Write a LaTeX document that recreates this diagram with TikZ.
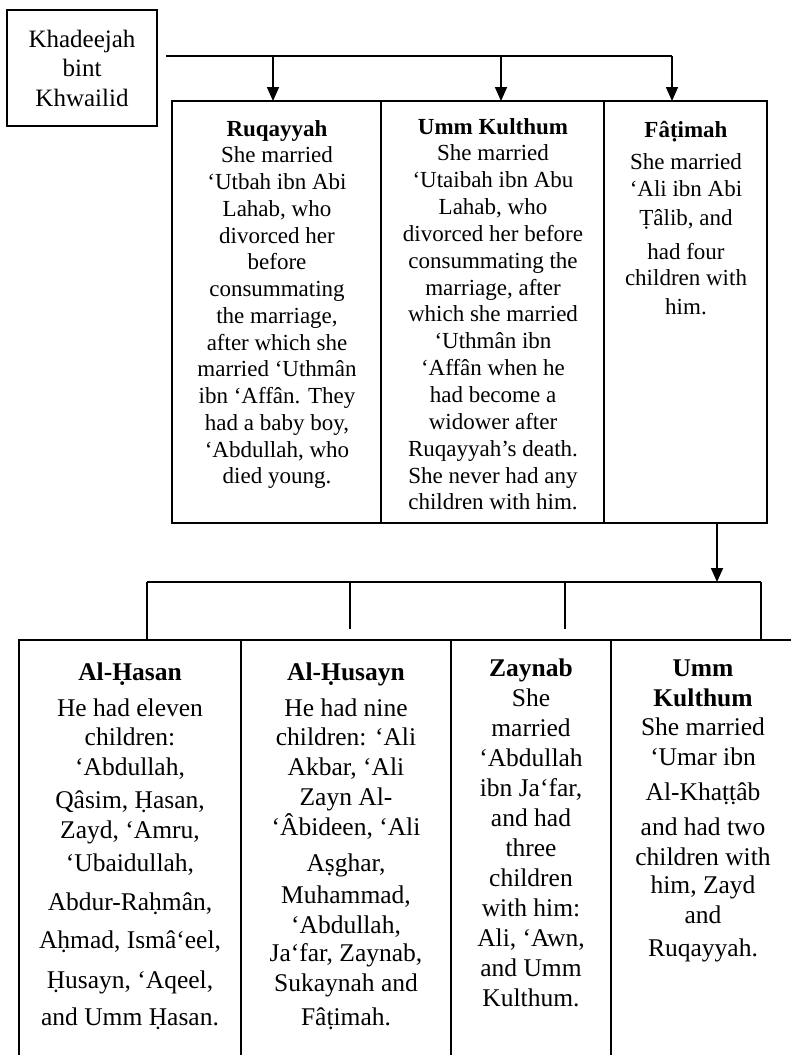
\documentclass[tikz,border=0pt]{standalone}
\usepackage{fontspec}
\setmainfont{Liberation Serif}
\usetikzlibrary{arrows.meta}
\newcommand\topfont{\fontsize{23}{26.8}\selectfont}
\newcommand\botfont{\fontsize{25.5}{30}\selectfont}
\newcommand\kfont{\fontsize{25}{29.5}\selectfont}
\tikzset{
  frame/.style={draw=black, line width=1.8pt, inner sep=0pt, outer sep=0pt, fill=none},
  conn/.style={draw=black, line width=1.8pt},
  arr/.style={draw=black, line width=1.8pt, -{Triangle[width=12pt,length=14pt]}},
  toptxt/.style={inner sep=0pt, anchor=base, font=\topfont},
  bottxt/.style={inner sep=0pt, anchor=base, font=\botfont},
}
\begin{document}
\begin{tikzpicture}[x=1pt, y=-1pt]
\useasboundingbox (0,0) rectangle (791,1055);
\clip (0,0) rectangle (791,1055);
\fill[white] (0,0) rectangle (791,1055);

% Khadeejah box
\node[frame, minimum width=150pt, minimum height=116pt, align=center, font=\kfont] (kh) at (82,68) {Khadeejah\\bint\\Khwailid};

% top row frames
\node[frame, minimum width=209pt, minimum height=422pt] (ruq) at (276.5,312) {};
\node[frame, minimum width=223pt, minimum height=422pt] (ukt) at (492.5,312) {};
\node[frame, minimum width=163pt, minimum height=422pt] (fat) at (685.5,312) {};

% bottom row frames
\node[frame, minimum width=222pt, minimum height=435pt] (hasan) at (130,857.5) {};
\node[frame, minimum width=210pt, minimum height=435pt] (husayn) at (346,857.5) {};
\node[frame, minimum width=160pt, minimum height=435pt] (zaynab) at (531,857.5) {};
\node[frame, minimum width=189pt, minimum height=435pt] (ukb) at (705.5,857.5) {};

% top connectors
\coordinate (bar0) at (166,56);
\coordinate (b1) at (273,56);
\coordinate (b2) at (501,56);
\coordinate (b3) at (672,56);
\draw[conn] (bar0) -- (b3);
\draw[arr] (b1) -- (b1 |- ruq.north);
\draw[arr] (b2) -- (b2 |- ukt.north);
\draw[arr] (b3) -- (b3 |- fat.north);

% lower connectors
\coordinate (c0) at (717,582);
\coordinate (d1) at (147,582);
\coordinate (d2) at (350,582);
\coordinate (d3) at (565,582);
\coordinate (d4) at (761,582);
\draw[arr] (c0 |- fat.south) -- (c0);
\draw[conn] (d1) -- (d4);
\draw[conn] (d1) -- (d1 |- hasan.north);
\draw[conn] (d2) -- ++(0,47) coordinate (d2e);
\draw[conn] (d3) -- ++(0,47) coordinate (d3e);
\draw[conn] (d4) -- (d4 |- ukb.north);

% Ruqayyah text
\foreach \linetext [count=\i] in {\textbf{Ruqayyah}, She married, ‘Utbah ibn Abi, {Lahab, who}, divorced her, before, consummating, {the marriage,}, after which she, married ‘Uthmân, ibn ‘Affân. They, {had a baby boy,}, {‘Abdullah, who}, died young.}
  \node[toptxt] (ruqt\i) at (277,{136+(\i-1)*26.75}) {\linetext};

% Umm Kulthum (top) text
\foreach \linetext [count=\i] in {\textbf{Umm Kulthum}, She married, ‘Utaibah ibn Abu, {Lahab, who}, divorced her before, consummating the, {marriage, after}, which she married, ‘Uthmân ibn, ‘Affân when he, had become a, widower after, Ruqayyah’s death., She never had any, children with him.}
  \node[toptxt] (uktt\i) at (493,{134+(\i-1)*26.85}) {\linetext};

% Fatimah text
\foreach \yy/\linetext [count=\i] in {137/{\textbf{Fâṭimah}}, 169/{She married}, 196/{‘Ali ibn Abi}, 225/{Ṭâlib, and}, 259/{had four}, 285/{children with}, 314/{him.}}
  \node[toptxt] (fatt\i) at (686,\yy) {\linetext};

% Al-Hasan text
\foreach \yy/\linetext [count=\i] in {680/{\textbf{Al-Ḥasan}}, 716/{He had eleven}, 745/{children:}, 775/{‘Abdullah,}, 808/{Qâsim, Ḥasan,}, 838/{Zayd, ‘Amru,}, 871/{‘Ubaidullah,}, 910/{Abdur-Raḥmân,}, 948/{Aḥmad, Ismâ‘eel,}, 988/{Ḥusayn, ‘Aqeel,}, 1025/{and Umm Ḥasan.}}
  \node[bottxt] (hast\i) at (130,\yy) {\linetext};

% Al-Husayn text
\foreach \yy/\linetext [count=\i] in {680/{\textbf{Al-Ḥusayn}}, 716/{He had nine}, 745/{children: ‘Ali}, 775/{Akbar, ‘Ali}, 805/{Zayn Al-}, 835/{‘Âbideen, ‘Ali}, 871/{Aṣghar,}, 903/{Muhammad,}, 933/{‘Abdullah,}, 961/{Ja‘far, Zaynab,}, 991/{Sukaynah and}, 1025/{Fâṭimah.}}
  \node[bottxt] (hust\i) at (346,\yy) {\linetext};

% Zaynab text
\foreach \linetext [count=\i] in {\textbf{Zaynab}, She, married, ‘Abdullah, {ibn Ja‘far,}, and had, three, children, with him:, {Ali, ‘Awn,}, and Umm, Kulthum.}
  \node[bottxt] (zayt\i) at (531,{676+(\i-1)*30}) {\linetext};

% Umm Kulthum (bottom) text
\foreach \yy/\linetext [count=\i] in {676/{\textbf{Umm}}, 706/{\textbf{Kulthum}}, 735/{She married}, 765/{‘Umar ibn}, 800/{Al-Khaṭṭâb}, 835/{and had two}, 865/{children with}, 893/{him, Zayd}, 923/{and}, 956/{Ruqayyah.}}
  \node[bottxt] (ukbt\i) at (703,\yy) {\linetext};
\end{tikzpicture}
\end{document}
